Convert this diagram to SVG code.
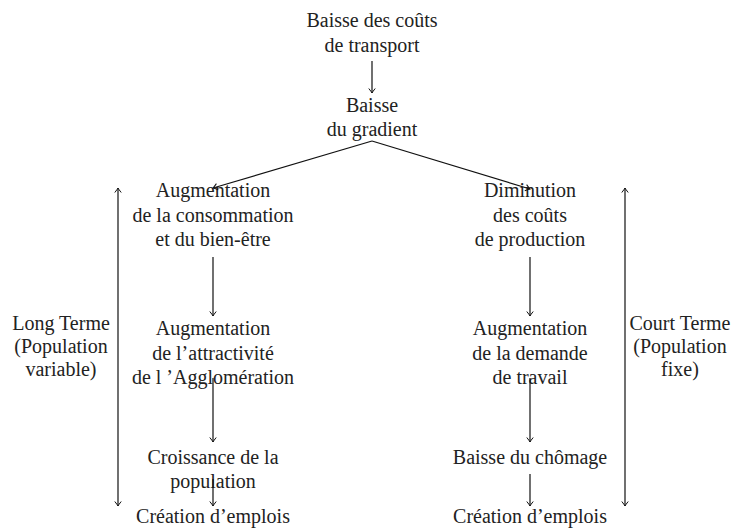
<svg xmlns="http://www.w3.org/2000/svg" width="739" height="528" viewBox="0 0 739 528">
<style>
text{font-family:"Liberation Serif","Times New Roman",serif;font-size:20px;fill:#222;text-anchor:middle}
.c{stroke:#111;stroke-width:1.2;fill:none;marker-end:url(#ah)}
.d{marker-start:url(#ahs)}
</style>
<defs>
<marker id="ah" markerUnits="userSpaceOnUse" markerWidth="12" markerHeight="12" refX="0" refY="0" viewBox="-6 -6 12 12" orient="auto" overflow="visible">
<path d="M-4.5,-3.2 Q-1.2,-0.6 0,0 Q-1.2,0.6 -4.5,3.2" fill="none" stroke="#111" stroke-width="1"/>
</marker>
<marker id="ahs" markerUnits="userSpaceOnUse" markerWidth="12" markerHeight="12" refX="0" refY="0" viewBox="-6 -6 12 12" orient="auto-start-reverse" overflow="visible">
<path d="M-4.5,-3.2 Q-1.2,-0.6 0,0 Q-1.2,0.6 -4.5,3.2" fill="none" stroke="#111" stroke-width="1"/>
</marker>
</defs>
<g id="n-top"><text x="372" y="27">Baisse des coûts</text><text x="372" y="52">de transport</text></g>
<g id="n-gradient"><text x="372" y="112">Baisse</text><text x="372" y="136">du gradient</text></g>
<g id="n-conso"><text x="213" y="197">Augmentation</text><text x="213" y="222">de la consommation</text><text x="213" y="246">et du bien-être</text></g>
<g id="n-attract"><text x="213" y="335">Augmentation</text><text x="213" y="360">de l’attractivité</text><text x="213" y="384">de l ’Agglomération</text></g>
<g id="n-croiss"><text x="213" y="464">Croissance de la</text><text x="213" y="488">population</text></g>
<g id="n-emploiL"><text x="213" y="523">Création d’emplois</text></g>
<g id="n-dimin"><text x="530" y="197">Diminution</text><text x="530" y="222">des coûts</text><text x="530" y="246">de production</text></g>
<g id="n-demande"><text x="530" y="335">Augmentation</text><text x="530" y="360">de la demande</text><text x="530" y="384">de travail</text></g>
<g id="n-chomage"><text x="530" y="464">Baisse du chômage</text></g>
<g id="n-emploiR"><text x="530" y="523">Création d’emplois</text></g>
<g id="n-long"><text x="61" y="330">Long Terme</text><text x="61" y="353">(Population</text><text x="61" y="376">variable)</text></g>
<g id="n-court"><text x="680" y="330">Court Terme</text><text x="680" y="353">(Population</text><text x="680" y="376">fixe)</text></g>
<g id="connectors">
<line class="c" x1="372" y1="61" x2="372" y2="93"/>
<line class="c" x1="372" y1="141" x2="213" y2="188"/>
<line class="c" x1="372" y1="141" x2="530" y2="189"/>
<line class="c" x1="213" y1="257" x2="213" y2="316"/>
<line class="c" x1="213" y1="378" x2="213" y2="442"/>
<line class="c" x1="213" y1="479" x2="213" y2="506"/>
<line class="c" x1="530" y1="257" x2="530" y2="316"/>
<line class="c" x1="530" y1="378" x2="530" y2="442"/>
<line class="c" x1="530" y1="474" x2="530" y2="506"/>
<line class="c d" x1="118" y1="188" x2="118" y2="506"/>
<line class="c d" x1="625" y1="188" x2="625" y2="506"/>
</g>
</svg>
